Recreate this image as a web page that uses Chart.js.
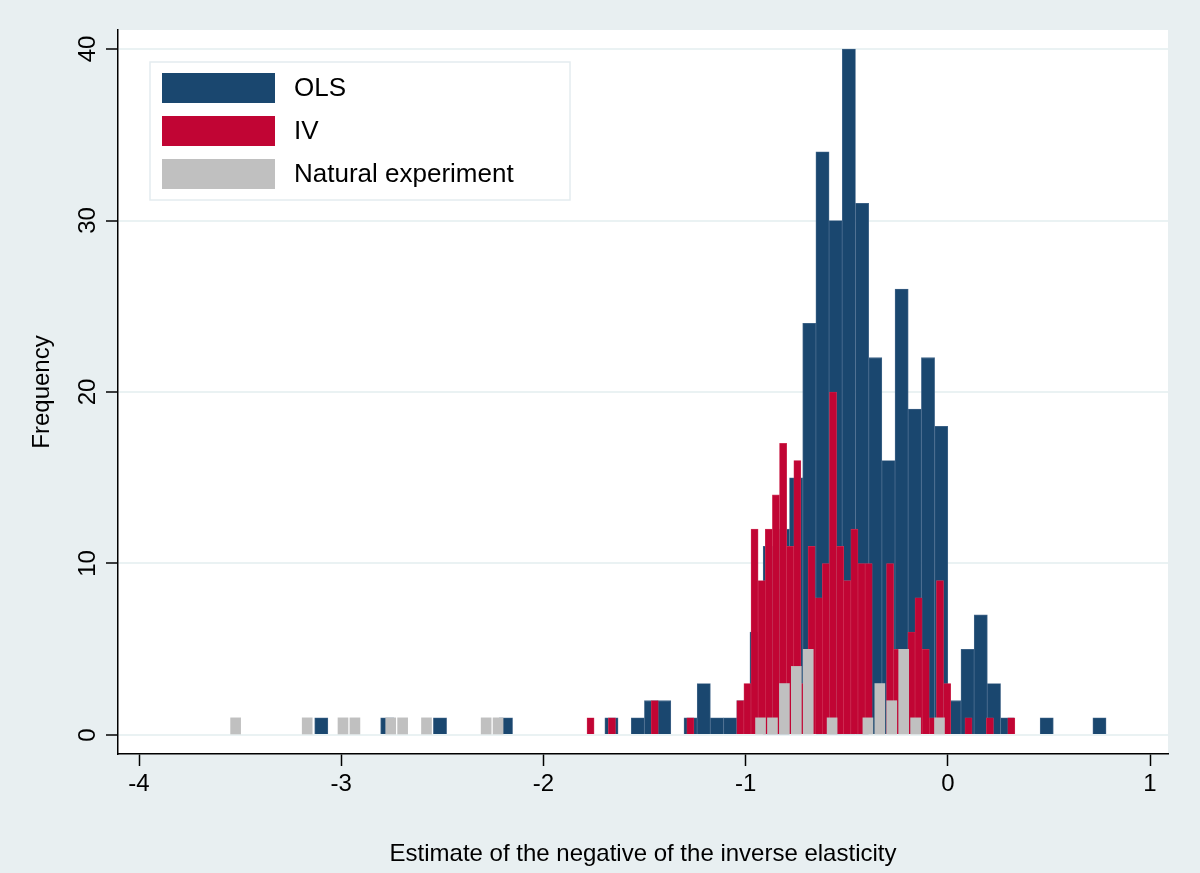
<!DOCTYPE html>
<html>
<head>
<meta charset="utf-8">
<script src="https://cdn.jsdelivr.net/npm/chart.js@4/dist/chart.umd.min.js"></script>
<style>
  html, body { margin: 0; padding: 0; background: #e8eff1; }
  #wrap { width: 1200px; height: 873px; }
</style>
</head>
<body>
<div id="wrap"><canvas id="histChart" width="1200" height="873"></canvas></div>
<script>
// bin layout (left edge of first bin, bin width) and counts
var olsStart = -3.1311, olsWidth = 0.06523;
var olsCounts = [1,0,0,0,0,1,0,0,0,1, 0,0,0,0,1,0,0,0,0,0,
                 0,0,1,0,1,2,2,0,1,3, 1,1,2,6,11,12,15,24,34,30,
                 40,31,22,16,26,19,22,18,2,5, 7,3,1,0,0,1,0,0,0,1];
var ivStart = -1.7845, ivWidth = 0.03527;
var ivCounts = [1,0,0,1,0,0,0,0,0,2, 0,0,0,0,1,0,0,0,0,0,
                0,2,3,12,9,12,14,17,11,16, 3,11,8,10,20,11,9,12,10,10,
                0,0,10,5,0,6,8,5,1,9, 3,0,0,1,0,0,1,0,0,1];
var neStart = -3.5517, neWidth = 0.0590;
var neCounts = [1,0,0,0,0,0,1,0,0,1, 1,0,0,1,1,0,1,0,0,0,
                0,1,1,0,0,0,0,0,0,0, 0,0,0,0,0,0,0,0,0,0,
                0,0,0,0,1,1,3,4,5,0, 1,0,0,1,3,2,5,1,0,1];
var xTicks = [-4, -3, -2, -1, 0, 1];
var yTicks = [0, 10, 20, 30, 40];
var seriesNames = ['OLS', 'IV', 'Natural experiment'];
var seriesColors = ['#1a476f', '#c10534', '#c0c0c0'];

function toPoints(start, width, counts) {
    var pts = [];
    counts.forEach(function(c, i) {
        if (c > 0) pts.push({ x: start + (i + 0.5) * width, y: c });
    });
    return pts;
}

var FONT = '"Liberation Sans", Arial, sans-serif';

var bgPlugin = {
    id: 'bg',
    beforeDraw: function(chart) {
        var ctx = chart.ctx, a = chart.chartArea;
        ctx.save();
        ctx.fillStyle = '#e8eff1';
        ctx.fillRect(0, 0, chart.width, chart.height);
        ctx.fillStyle = '#ffffff';
        ctx.fillRect(a.left, a.top, a.right - a.left, a.bottom - a.top);
        ctx.restore();
    }
};

// rotated y tick labels, centred on their ticks like the original
var yLabels = {
    id: 'yLabels',
    afterDraw: function(chart) {
        var ctx = chart.ctx, sy = chart.scales.y;
        ctx.save();
        ctx.font = '24px ' + FONT;
        ctx.fillStyle = '#000';
        ctx.textAlign = 'center';
        ctx.textBaseline = 'middle';
        yTicks.forEach(function(v) {
            ctx.save();
            ctx.translate(88, sy.getPixelForValue(v));
            ctx.rotate(-Math.PI / 2);
            ctx.fillText(String(v), 0, 0);
            ctx.restore();
        });
        ctx.restore();
    }
};

var legendBox = {
    id: 'legendBox',
    afterDraw: function(chart) {
        var ctx = chart.ctx;
        ctx.save();
        ctx.fillStyle = '#ffffff';
        ctx.fillRect(150, 62, 420, 138);
        ctx.strokeStyle = '#e4ecef';
        ctx.lineWidth = 1.5;
        ctx.strokeRect(150, 62, 420, 138);
        ctx.font = '26px ' + FONT;
        ctx.textBaseline = 'middle';
        seriesNames.forEach(function(n, i) {
            var y = 73 + i * 43;
            ctx.fillStyle = seriesColors[i];
            ctx.fillRect(162, y, 113, 30);
            ctx.fillStyle = '#000';
            ctx.fillText(n, 294, y + 16);
        });
        ctx.restore();
    }
};

var chart = new Chart(document.getElementById('histChart').getContext('2d'), {
    type: 'bar',
    data: {
        datasets: [
            { label: seriesNames[0], data: toPoints(olsStart, olsWidth, olsCounts),
              backgroundColor: seriesColors[0], borderColor: '#46698c', borderWidth: 0.8,
              barThickness: 13.2, grouped: false, order: 3 },
            { label: seriesNames[1], data: toPoints(ivStart, ivWidth, ivCounts),
              backgroundColor: seriesColors[1], borderColor: '#d23a5c', borderWidth: 0.6,
              barThickness: 7.1, grouped: false, order: 2 },
            { label: seriesNames[2], data: toPoints(neStart, neWidth, neCounts),
              backgroundColor: seriesColors[2], borderWidth: 0,
              barThickness: 10, grouped: false, order: 1 }
        ]
    },
    options: {
        responsive: false,
        animation: false,
        layout: { padding: { top: 30, right: 32, left: 0, bottom: 0 } },
        plugins: { legend: { display: false }, tooltip: { enabled: false } },
        scales: {
            x: {
                type: 'linear',
                offset: false,
                min: -4.1039, max: 1.089,
                afterBuildTicks: function(s) { s.ticks = xTicks.map(function(v) { return { value: v }; }); },
                afterFit: function(s) { s.height = 119; },
                grid: { offset: false, drawOnChartArea: false, tickLength: 12, tickColor: '#000', tickWidth: 1.5 },
                border: { color: '#000', width: 1.5 },
                ticks: { color: '#000', font: { family: FONT, size: 24 }, padding: 4, maxRotation: 0 },
                title: { display: true, text: 'Estimate of the negative of the inverse elasticity',
                         color: '#000', font: { family: FONT, size: 24 }, padding: { top: 10 } }
            },
            y: {
                min: -1.108, max: 41.108,
                afterBuildTicks: function(s) { s.ticks = yTicks.map(function(v) { return { value: v }; }); },
                afterFit: function(s) { s.width = 118; },
                grid: { color: '#eaf2f3', lineWidth: 2, tickLength: 12, tickColor: '#000', tickWidth: 1.5 },
                border: { color: '#000', width: 1.5 },
                ticks: { display: false },
                title: { display: true, text: 'Frequency', color: '#000',
                         font: { family: FONT, size: 24 }, padding: { bottom: 0, top: 28 } }
            }
        }
    },
    plugins: [bgPlugin, yLabels, legendBox]
});
</script>
</body>
</html>
